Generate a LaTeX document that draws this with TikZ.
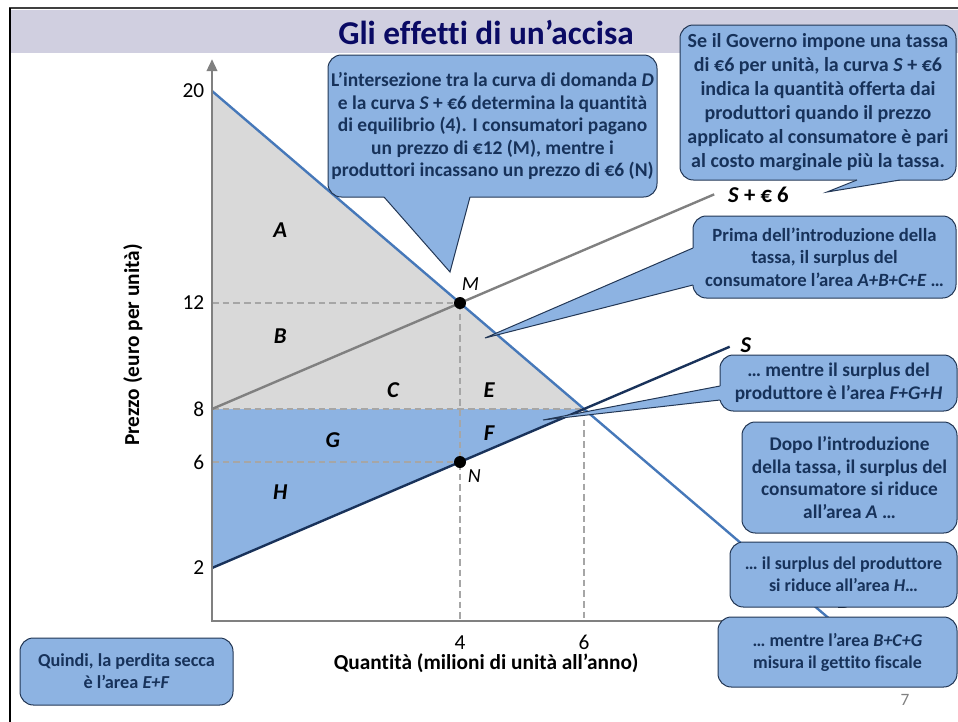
\documentclass[tikz,border=0pt]{standalone}
\usepackage{fontspec}
\setmainfont{Carlito}[Ligatures={NoCommon}]
\usetikzlibrary{arrows.meta}
\definecolor{bubblefill}{RGB}{141,179,226}
\definecolor{bubbleline}{RGB}{35,55,85}
\definecolor{bubbletext}{RGB}{23,50,90}
\definecolor{titlecol}{RGB}{10,10,100}
\definecolor{titlebar}{RGB}{208,207,224}
\definecolor{areagray}{RGB}{217,217,217}
\definecolor{demandcol}{RGB}{70,120,185}
\definecolor{supplycol}{RGB}{25,50,90}
\definecolor{taxcol}{RGB}{128,128,128}
\definecolor{guidegray}{RGB}{166,166,166}

\begin{document}
\begin{tikzpicture}[x=0.75pt,y=-0.75pt,
  bubble/.style={draw=bubbleline,line width=0.75pt,fill=bubblefill,rounded corners=10pt,
    align=center,text=bubbletext,inner sep=2pt,
    font=\fontsize{14}{17}\selectfont\bfseries},
  pointer/.style={draw=bubbleline,line width=0.75pt},
  arealabel/.style={font=\fontsize{17}{19}\selectfont\bfseries\itshape},
  ticklabel/.style={font=\fontsize{16}{18}\selectfont,inner sep=1pt},
  guide/.style={draw=guidegray,line width=1.1pt,dash pattern=on 5pt off 3pt},
  axis/.style={draw=taxcol,line width=1.6pt},
  dot/.style={circle,fill=black,inner sep=0pt,minimum size=9pt}]
  \useasboundingbox (0,0) rectangle (958,722);
  % slide frame and title
  \fill[titlebar] (11,10) rectangle (958,53);
  \draw[black!75,line width=2pt] (9,8) -- (958,8);
  \draw[black,line width=2pt] (10,8) -- (10,722);
  \node[font=\fontsize{25}{29}\selectfont\bfseries,text=titlecol] (title) at (486,32) {Gli effetti di un’accisa};

  % market diagram
  \begin{scope}[shift={(212,621)},x=46.5pt,y=19.875pt]
    \fill[areagray] (0,8) -- (0,20) -- (6,8) -- cycle;
    \fill[bubblefill] (0,2) -- (0,8) -- (6,8) -- cycle;
    \draw[guide] (0,12) -- (4,12);
    \draw[guide] (0,8) -- (6,8);
    \draw[guide] (0,6) -- (4,6);
    \draw[guide] (4,12) -- (4,0);
    \draw[guide] (6,8) -- (6,0);
    \draw[demandcol,line width=1.8pt] (0,20) -- (10,0);
    \draw[taxcol,line width=1.8pt] (0,8) -- (8.1,16.1);
    \draw[supplycol,line width=1.8pt] (0,2) -- (8.35,10.35);
    \draw[axis,{Triangle[width=8pt,length=9pt]}-] (0,21.2) -- (0,0) -- (9,0);
    \node[dot] (M) at (4,12) {};
    \node[dot] (N) at (4,6) {};
    \node[font=\fontsize{15}{17}\selectfont\itshape] (Mlab) at (4.17,12.7) {M};
    \node[font=\fontsize{15}{17}\selectfont\itshape] (Nlab) at (4.23,5.45) {N};
    \node[arealabel] (A) at (1.1,14.75) {A};
    \node[arealabel] (B) at (1.1,10.75) {B};
    \node[arealabel] (C) at (2.92,8.7) {C};
    \node[arealabel] (E) at (4.47,8.7) {E};
    \node[arealabel] (G) at (1.95,6.83) {G};
    \node[arealabel] (F) at (4.47,7.1) {F};
    \node[arealabel] (H) at (1.1,4.87) {H};
    \node[ticklabel,anchor=east] (y20) at (-0.1,20) {20};
    \node[ticklabel,anchor=east] (y12) at (-0.1,12) {12};
    \node[ticklabel,anchor=east] (y8) at (-0.1,8) {8};
    \node[ticklabel,anchor=east] (y6) at (-0.1,6) {6};
    \node[ticklabel,anchor=east] (y2) at (-0.1,2) {2};
    \node[ticklabel] (x4) at (4,-0.8) {4};
    \node[ticklabel] (x6) at (6,-0.8) {6};
    \node[arealabel,anchor=west] (Slab) at (8.45,10.4) {S};
    \node[font=\fontsize{17}{19}\selectfont\bfseries,anchor=west] (Stlab) at (8.25,16.1) {\textit{S} + € 6};
    \node[arealabel] (Dlab) at (10.2,0.75) {D};
  \end{scope}
  \node[font=\fontsize{16}{18}\selectfont\bfseries,rotate=90] (ytitle) at (133,345) {Prezzo (euro per unità)};
  \node[font=\fontsize{16}{18}\selectfont\bfseries] (xtitle) at (486,663) {Quantità (milioni di unità all’anno)};

  % speech bubbles
  \node[bubble,font=\fontsize{14.6}{16.9}\selectfont\bfseries,
        minimum width=246.75pt,minimum height=106.5pt] (b1) at (492.5,126)
    {L’intersezione tra la curva di domanda \textit{D}\\
     e la curva \textit{S} + €6 determina la quantità\\
     di equilibrio (4). I consumatori pagano\\
     un prezzo di €12 (M), mentre i\\
     produttori incassano un prezzo di €6 (N)};
  \fill[bubblefill] (384,197) -- (450,272) -- (470,197) -- (470,192) -- (384,192) -- cycle;
  \draw[pointer] (384,197) -- (450,272) -- (470,197);

  \node[bubble,font=\fontsize{15}{18}\selectfont\bfseries,
        minimum width=207pt,minimum height=116.25pt] (b2) at (818,102.5)
    {Se il Governo impone una tassa\\
     di €6 per unità, la curva \textit{S} + €6\\
     indica la quantità offerta dai\\
     produttori quando il prezzo\\
     applicato al consumatore è pari\\
     al costo marginale più la tassa.};
  \fill[bubblefill] (857,180) -- (827,192) -- (900,180) -- (900,175) -- (857,175) -- cycle;
  \draw[pointer] (857,180) -- (827,192) -- (900,180);

  \node[bubble,minimum width=197.25pt,minimum height=61.5pt] (b3) at (824.5,257)
    {Prima dell’introduzione della\\
     tassa, il surplus del\\
     consumatore l’area \textit{A+B+C+E} …};
  \fill[bubblefill] (693,248) -- (485,338) -- (693,285) -- (698,285) -- (698,248) -- cycle;
  \draw[pointer] (693,248) -- (485,338) -- (693,285);

  \node[bubble,font=\fontsize{14.5}{17}\selectfont\bfseries,
        minimum width=177.75pt,minimum height=42pt] (b4) at (838.5,383)
    {… mentre il surplus del\\
     produttore è l’area \textit{F+G+H}};
  \fill[bubblefill] (720,386) -- (543,420) -- (720,400) -- (725,400) -- (725,386) -- cycle;
  \draw[pointer] (720,386) -- (543,420) -- (720,400);

  \node[bubble,font=\fontsize{14.5}{17}\selectfont\bfseries,
        minimum width=161.25pt,minimum height=83.25pt] (b5) at (849.5,477.5)
    {Dopo l’introduzione\\
     della tassa, il surplus del\\
     consumatore si riduce\\
     all’area \textit{A} …};

  \node[bubble,font=\fontsize{13.5}{16.5}\selectfont\bfseries,
        minimum width=170.25pt,minimum height=48.75pt] (b6) at (843.5,574.5)
    {… il surplus del produttore\\
     si riduce all’area \textit{H}…};

  \node[bubble,font=\fontsize{13.5}{16.5}\selectfont\bfseries,
        minimum width=179.25pt,minimum height=52.5pt] (b7) at (837.5,652)
    {… mentre l’area \textit{B+C+G}\\
     misura il gettito fiscale};

  \node[bubble,font=\fontsize{13.7}{16.5}\selectfont\bfseries,
        minimum width=159.75pt,minimum height=50.25pt] (b8) at (126.5,671.5)
    {Quindi, la perdita secca\\
     è l’area \textit{E+F}};

  \node[font=\fontsize{13}{15}\selectfont,text=black!50] (page) at (905,700) {7};
\end{tikzpicture}
\end{document}
